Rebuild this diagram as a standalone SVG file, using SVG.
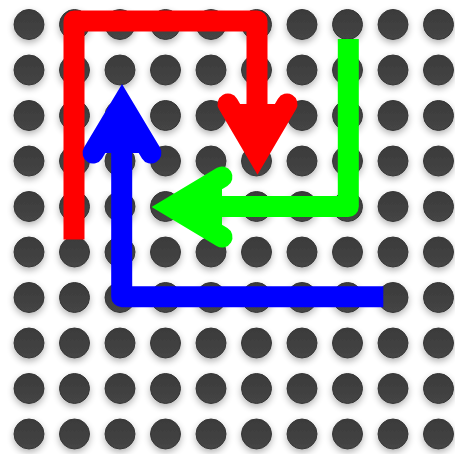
<svg xmlns="http://www.w3.org/2000/svg" xmlns:xlink="http://www.w3.org/1999/xlink" width="455" height="454" viewBox="0 0 455 454">
<defs>
<linearGradient id="dg" x1="0" y1="0" x2="0" y2="1">
<stop offset="0" stop-color="#3a3a3a"/>
<stop offset="1" stop-color="#454545"/>
</linearGradient>
<filter id="sh" x="-20%" y="-20%" width="140%" height="140%">
<feGaussianBlur in="SourceAlpha" stdDeviation="3.5"/>
<feOffset dy="2.5" result="b"/>
<feComponentTransfer><feFuncA type="linear" slope="0.3"/></feComponentTransfer>
<feMerge><feMergeNode/><feMergeNode in="SourceGraphic"/></feMerge>
</filter>
<circle id="d" r="15" fill="url(#dg)" stroke="#363636" stroke-width="1"/>
</defs>
<style>
.ln{fill:none;stroke-width:21;stroke-linejoin:round;stroke-linecap:butt}
.hd{stroke-width:21;stroke-linejoin:miter;stroke-miterlimit:10;stroke-linecap:round}
</style>
<rect width="455" height="454" fill="#ffffff"/>
<g id="dots" filter="url(#sh)">
<g id="row0" transform="translate(0,24.5)"><use xlink:href="#d" x="29"/><use xlink:href="#d" x="74.5"/><use xlink:href="#d" x="120"/><use xlink:href="#d" x="165.5"/><use xlink:href="#d" x="211"/><use xlink:href="#d" x="256.5"/><use xlink:href="#d" x="302"/><use xlink:href="#d" x="347.5"/><use xlink:href="#d" x="393"/><use xlink:href="#d" x="438.5"/></g>
<use xlink:href="#row0" y="45.5"/>
<use xlink:href="#row0" y="91"/>
<use xlink:href="#row0" y="136.5"/>
<use xlink:href="#row0" y="182"/>
<use xlink:href="#row0" y="227.5"/>
<use xlink:href="#row0" y="273"/>
<use xlink:href="#row0" y="318.5"/>
<use xlink:href="#row0" y="364"/>
<use xlink:href="#row0" y="409.5"/>
</g>
<g id="connectors">
<g id="red">
<path class="ln" stroke="#ff0000" d="M74,239.5 L74,21 L257,21 L257,150"/>
<path class="hd" stroke="#ff0000" fill="#ff0000" d="M228,104 L257.5,154 L287,104"/>
</g>
<g id="green">
<path class="ln" stroke="#00ff00" d="M348.3,39 L348.3,206.5 L175,206.5"/>
<path class="hd" stroke="#00ff00" fill="#00ff00" d="M222,177 L172,207 L222,237"/>
</g>
<g id="blue">
<path class="ln" stroke="#0000ff" stroke-width="20" d="M383.3,296.7 L121.7,296.7 L121.7,110"/>
<path class="hd" stroke="#0000ff" fill="#0000ff" stroke-width="20" d="M93,153 L122,104.5 L151,153"/>
</g>
</g>
</svg>
